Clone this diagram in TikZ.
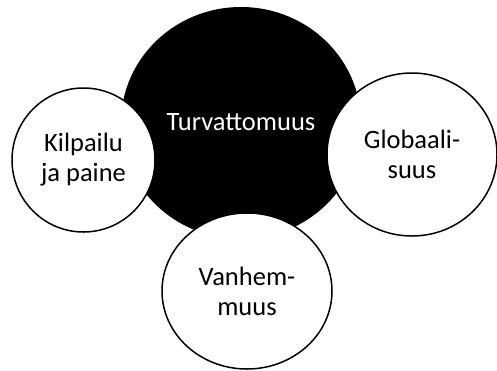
\documentclass[tikz,border=0pt]{standalone}
\usepackage{fontspec}
\setmainfont{Carlito}
\usetikzlibrary{shapes.geometric}
\begin{document}
\begin{tikzpicture}[x=1pt,y=-1pt,
  bubble/.style={ellipse, draw=black, line width=1.5pt, fill=white, inner sep=0pt, outer sep=0pt,
    align=center, font=\fontsize{26.5}{30}\selectfont, text=black},
  core/.style={ellipse, fill=black, inner sep=0pt, outer sep=0pt,
    align=center, font=\fontsize{26.5}{30}\selectfont, text=white}]
\useasboundingbox (0,0) rectangle (497,370);
\node[core, minimum width=240pt, minimum height=232pt] (turva) at (241,123) {\raisebox{2pt}{Turvattomuus}};
\node[bubble, minimum width=143pt, minimum height=144pt] (kilp) at (83.5,160) {Kilpailu\\ja paine};
\node[bubble, minimum width=170pt, minimum height=163pt] (glob) at (412,154.5) {Globaali-\\suus};
\node[bubble, minimum width=170pt, minimum height=156pt] (vanh) at (247,291) {Vanhem-\\muus};
\end{tikzpicture}
\end{document}
